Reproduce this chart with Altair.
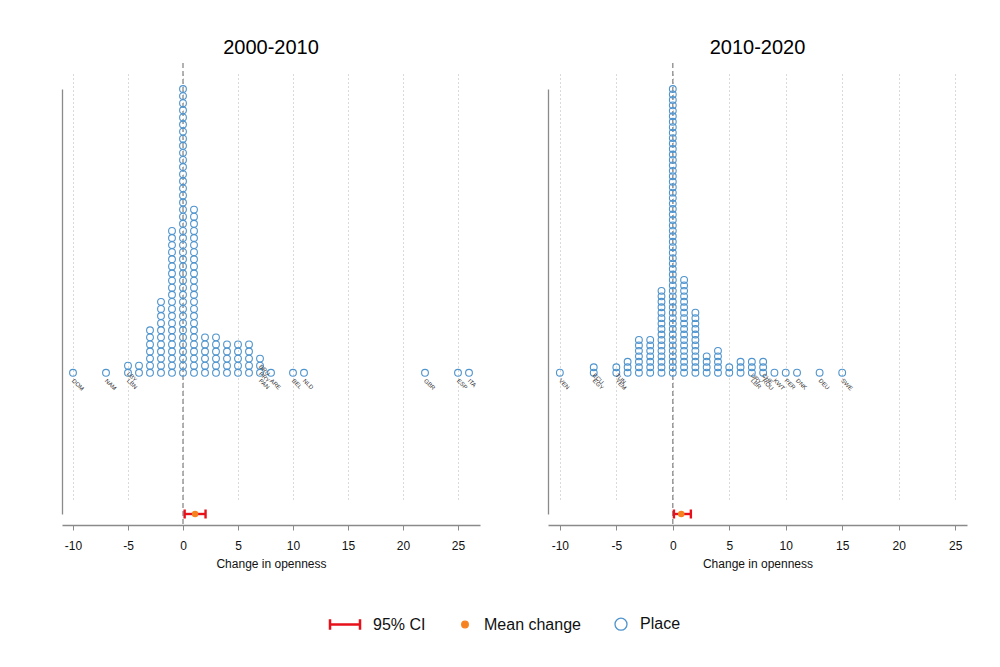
import altair as alt
import pandas as pd

# ---------------- data ----------------
titles = ["2000-2010", "2010-2020"]
tick_values = [-10, -5, 0, 5, 10, 15, 20, 25]
legend_items = ["95% CI", "Mean change", "Place"]

# 2000-2010: change value of each stack and number of places in it
left_x = [-10, -7, -5, -4, -3, -2, -1, 0, 1, 2, 3, 4, 5, 6, 7, 8, 10, 11, 22, 25, 26]
left_n = [1, 1, 2, 2, 7, 11, 21, 41, 24, 6, 6, 5, 5, 5, 3, 1, 1, 1, 1, 1, 1]
left_lab_code = ["DOM", "NAM", "LBN", "LBY", "PAN", "PRY", "BRU", "ARE", "BEL", "NLD", "GBR", "ESP", "ITA"]
left_lab_x = [-10, -7, -5, -5, 7, 7, 7, 8, 10, 11, 22, 25, 26]
left_lab_k = [0, 0, 0, 1, 0, 1, 2, 0, 0, 0, 0, 0, 0]
left_mean = 1.1
left_ci = [0.15, 2.05]

# 2010-2020
right_x = [-10, -7, -5, -4, -3, -2, -1, 0, 1, 2, 3, 4, 5, 6, 7, 8, 9, 10, 11, 13, 15]
right_n = [1, 2, 2, 3, 7, 7, 16, 53, 18, 12, 4, 5, 2, 3, 3, 3, 1, 1, 1, 1, 1]
right_lab_code = ["VEN", "EGY", "ECU", "YEM", "TUN", "LBR", "URY", "ROU", "CHE", "KWT", "PER", "DNK", "DEU", "SWE"]
right_lab_x = [-10, -7, -7, -5, -5, 7, 7, 8, 8, 9, 10, 11, 13, 15]
right_lab_k = [0, 0, 1, 0, 1, 0, 1, 0, 1, 0, 0, 0, 0, 0]
right_mean = 0.75
right_ci = [0.1, 1.6]

# ---------------- style ----------------
FONT = "Liberation Sans"
BLUE = "#4f94cd"
ORANGE = "#f5821f"
RED = "#e8101a"
GRAY = "#8a8a8a"

CI_PATH = ("M-4,-0.1H1V0.1H-4Z M-4.1,-0.75H-3.9V0.75H-4.1Z M0.9,-0.75H1.1V0.75H0.9Z")
DOT_PATH = "M-0.55,0A0.55,0.55 0 1,0 0.55,0A0.55,0.55 0 1,0 -0.55,0Z"


def panel(xs, ns, lab_code, lab_x, lab_k, mean, ci, title, xmin, xmax, width, ylow, ytop, legend=False):
    pts = pd.DataFrame([{"x": x, "k": k} for x, n in zip(xs, ns) for k in range(n)])
    labs = pd.DataFrame({"code": lab_code, "x": lab_x, "k": lab_k})
    zero = pd.DataFrame({"x": [0]})
    mean_df = pd.DataFrame({"x": [mean], "k": [ylow]})
    ci_df = pd.DataFrame({"lo": [ci[0]], "hi": [ci[1]], "k": [ylow]})
    cap_df = pd.DataFrame({"x": ci, "k": [ylow, ylow]})

    xscale = alt.Scale(domain=[xmin, xmax], nice=False, zero=False)
    yscale = alt.Scale(domain=[ylow, ytop], range=[451, 26], nice=False, zero=False)
    xaxis = alt.Axis(values=tick_values, title="Change in openness", grid=True,
                     labelExpr="datum.value + ''",
                     gridDash=[1, 3], gridColor="#b5b5b5", gridWidth=1,
                     domainColor=GRAY, domainWidth=1.3, tickColor=GRAY, tickSize=5,
                     labelFont=FONT, labelFontSize=12, labelColor="#111", labelPadding=10,
                     titleFont=FONT, titleFontSize=12, titleFontWeight="normal",
                     titleColor="#111", titlePadding=7)
    yaxis = alt.Axis(labels=False, ticks=False, title=None, grid=False,
                     domainColor=GRAY, domainWidth=1.3, minExtent=0, maxExtent=0)

    def X(f):
        return alt.X(f, scale=xscale, axis=xaxis)

    def Y(f):
        return alt.Y(f, scale=yscale, axis=yaxis)

    zero_rule = alt.Chart(zero).mark_rule(color=GRAY, strokeDash=[5, 3], strokeWidth=1.3).encode(x=X("x:Q"))
    dots = alt.Chart(pts).mark_point(shape="circle", filled=False, size=46, stroke=BLUE,
                                     strokeWidth=1.1, opacity=1).encode(x=X("x:Q"), y=Y("k:Q"))
    texts = alt.Chart(labs).mark_text(angle=45, align="left", baseline="middle", fontSize=6,
                                      font=FONT, color="#333", yOffset=7).encode(
        x=X("x:Q"), y=Y("k:Q"), text="code:N")
    ci_rule = alt.Chart(ci_df).mark_rule(color=RED, strokeWidth=2.4).encode(
        x=X("lo:Q"), x2="hi:Q", y=Y("k:Q"))
    caps = alt.Chart(cap_df).mark_tick(orient="vertical", color=RED, size=9, thickness=2.4,
                                       opacity=1).encode(x=X("x:Q"), y=Y("k:Q"))
    mean_pt = alt.Chart(mean_df).mark_circle(color=ORANGE, size=42, opacity=1).encode(
        x=X("x:Q"), y=Y("k:Q"))

    layers = [zero_rule, dots, texts, ci_rule, caps, mean_pt]
    if legend:
        leg = alt.Legend(title=None, orient="none", legendX=284, legendY=553, direction="horizontal",
                         labelFont=FONT, labelFontSize=16, labelColor="#111", labelOffset=11,
                         columnPadding=31, symbolSize=144, symbolStrokeWidth=1.3,
                         symbolOpacity=1, padding=0)
        leg_df = pd.DataFrame({"series": legend_items})
        dummy = alt.Chart(leg_df).mark_point(opacity=0, filled=False).encode(
            shape=alt.Shape("series:N", scale=alt.Scale(domain=legend_items,
                                                        range=[CI_PATH, DOT_PATH, "circle"]), legend=leg),
            stroke=alt.Stroke("series:N", scale=alt.Scale(domain=legend_items,
                                                          range=[RED, ORANGE, BLUE]), legend=leg),
            fill=alt.Fill("series:N", scale=alt.Scale(domain=legend_items,
                                                      range=[RED, ORANGE, "transparent"]), legend=leg),
        )
        layers.append(dummy)

    return alt.layer(*layers).properties(
        width=width, height=462,
        title=alt.TitleParams(title, font=FONT, fontSize=20, fontWeight="normal", color="#000",
                              anchor="middle", offset=4),
    )


left = panel(left_x, left_n, left_lab_code, left_lab_x, left_lab_k, left_mean, left_ci,
             titles[0], -11, 27, 418, -19.9, 40, legend=True)
right = panel(right_x, right_n, right_lab_code, right_lab_x, right_lab_k, right_mean, right_ci,
              titles[1], -11.05, 26.05, 419, -25.9, 52)

chart = alt.hconcat(left, right, spacing=68).resolve_scale(
    x="independent", y="independent"
).properties(
    padding={"left": 54, "top": 30, "right": 5, "bottom": 5},
    background="white",
).configure_view(stroke=None)

chart.save("out.html", embed_options={"renderer": "svg", "actions": False})
